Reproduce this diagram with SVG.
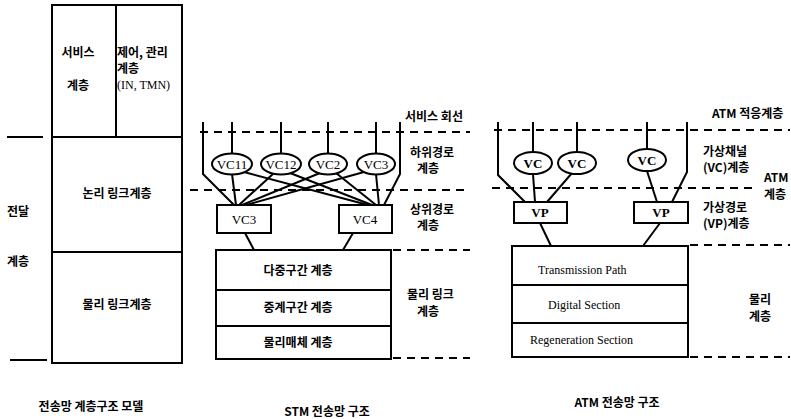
<svg xmlns="http://www.w3.org/2000/svg" width="791" height="419" viewBox="0 0 791 419">
<style>
.s{fill:none;stroke:#000;stroke-width:2}
.d{fill:none;stroke:#000;stroke-width:2;stroke-dasharray:8,6}
.box{fill:#fff;stroke:#000;stroke-width:2}
.k{font-family:"Noto Sans CJK KR","Liberation Sans",sans-serif;font-weight:bold;font-size:12px;fill:#000}
.e{font-family:"Liberation Serif","Noto Sans CJK KR",serif;font-size:13px;fill:#000}
.es{font-family:"Liberation Serif","Noto Sans CJK KR",serif;font-size:12px;fill:#000}
.m{text-anchor:middle}
</style>
<rect width="791" height="419" fill="#fff"/>

<!-- Left model -->
<g id="model">
  <rect class="box" x="52" y="5" width="130" height="358"/>
  <line class="s" x1="116" y1="5" x2="116" y2="137"/>
  <line class="s" x1="52" y1="137" x2="182" y2="137"/>
  <line class="s" x1="52" y1="252" x2="182" y2="252"/>
  <line class="s" x1="7" y1="137" x2="43" y2="137"/>
  <line class="s" x1="10" y1="360" x2="47" y2="360"/>
  <text class="k m" x="78" y="57">서비스</text>
  <text class="k m" x="78" y="90">계층</text>
  <text class="k" x="117" y="57">제어, 관리</text>
  <text class="k" x="117" y="73">계층</text>
  <text class="es" x="117" y="89">(IN, TMN)</text>
  <text class="k m" x="117" y="198">논리 링크계층</text>
  <text class="k m" x="117" y="309">물리 링크계층</text>
  <text class="k" x="7" y="216">전달</text>
  <text class="k" x="7" y="266">계층</text>
  <text class="k m" x="91" y="411">전송망 계층구조 모델</text>
</g>

<!-- STM connectors -->
<g id="stm-connectors">
  <line class="d" x1="200" y1="132" x2="470" y2="132"/>
  <line class="d" x1="190" y1="190" x2="470" y2="190"/>
  <line class="d" x1="393" y1="250" x2="470" y2="250"/>
  <line class="d" x1="393" y1="358" x2="470" y2="358"/>
  <polyline class="s" points="203,122 203,174 234,205"/>
  <polyline class="s" points="400,122 400,174 384,205"/>
  <line class="s" x1="232" y1="122" x2="232" y2="154"/>
  <line class="s" x1="281" y1="122" x2="281" y2="154"/>
  <line class="s" x1="328" y1="122" x2="328" y2="154"/>
  <line class="s" x1="376" y1="122" x2="376" y2="154"/>
  <line class="s" x1="232" y1="174" x2="236" y2="205"/>
  <line class="s" x1="244" y1="172" x2="368" y2="205"/>
  <line class="s" x1="274" y1="173" x2="239" y2="205"/>
  <line class="s" x1="290" y1="173" x2="372" y2="205"/>
  <line class="s" x1="320" y1="173" x2="242" y2="205"/>
  <line class="s" x1="336" y1="173" x2="376" y2="205"/>
  <line class="s" x1="364" y1="172" x2="246" y2="205"/>
  <line class="s" x1="376" y1="174" x2="379" y2="205"/>
  <line class="s" x1="245" y1="233" x2="254" y2="250"/>
  <line class="s" x1="353" y1="233" x2="343" y2="250"/>
</g>

<!-- STM nodes -->
<g id="vc11"><ellipse class="box" cx="232" cy="164" rx="20" ry="10.5"/><text class="e m" x="232" y="168.5">VC11</text></g>
<g id="vc12"><ellipse class="box" cx="281" cy="164" rx="20" ry="10.5"/><text class="e m" x="281" y="168.5">VC12</text></g>
<g id="vc2"><ellipse class="box" cx="328" cy="164" rx="19" ry="10.5"/><text class="e m" x="328" y="168.5">VC2</text></g>
<g id="vc3e"><ellipse class="box" cx="376" cy="164" rx="19" ry="10.5"/><text class="e m" x="376" y="168.5">VC3</text></g>
<g id="vc3box"><rect class="box" x="217" y="205" width="54" height="28"/><text class="e m" x="244" y="224">VC3</text></g>
<g id="vc4box"><rect class="box" x="339" y="205" width="53" height="28"/><text class="e m" x="365" y="224">VC4</text></g>
<g id="stm-phys">
  <rect class="box" x="216" y="250" width="175" height="109"/>
  <line class="s" x1="216" y1="290" x2="391" y2="290"/>
  <line class="s" x1="216" y1="326" x2="391" y2="326"/>
  <text class="k m" x="298" y="275">다중구간 계층</text>
  <text class="k m" x="298" y="312">중계구간 계층</text>
  <text class="k m" x="298" y="347">물리매체 계층</text>
</g>
<g id="stm-labels">
  <text class="k" x="405" y="121">서비스 회선</text>
  <text class="k" x="410" y="157">하위경로</text>
  <text class="k m" x="428" y="173">계층</text>
  <text class="k" x="410" y="214">상위경로</text>
  <text class="k m" x="428" y="230">계층</text>
  <text class="k" x="407" y="299">물리 링크</text>
  <text class="k m" x="428" y="316">계층</text>
  <text class="k m" x="327" y="416">STM 전송망 구조</text>
</g>

<!-- ATM connectors -->
<g id="atm-connectors">
  <line class="d" x1="494" y1="130" x2="790" y2="130"/>
  <line class="d" x1="492" y1="188" x2="756" y2="188"/>
  <line class="d" x1="690" y1="245" x2="790" y2="245"/>
  <line class="d" x1="690" y1="357" x2="790" y2="357"/>
  <polyline class="s" points="498,122 498,175 525,202"/>
  <polyline class="s" points="687,122 687,172 672,202"/>
  <line class="s" x1="533" y1="122" x2="533" y2="152"/>
  <line class="s" x1="577" y1="122" x2="577" y2="152"/>
  <line class="s" x1="647" y1="122" x2="647" y2="149"/>
  <line class="s" x1="533" y1="174" x2="535" y2="202"/>
  <line class="s" x1="572" y1="173" x2="547" y2="202"/>
  <line class="s" x1="647" y1="171" x2="657" y2="202"/>
  <line class="s" x1="540" y1="223" x2="551" y2="246"/>
  <line class="s" x1="660" y1="223" x2="643" y2="246"/>
</g>

<!-- ATM nodes -->
<g id="vc-a"><ellipse class="box" cx="533" cy="163" rx="19" ry="11"/><text class="e m" x="533" y="167.5" font-weight="bold">VC</text></g>
<g id="vc-b"><ellipse class="box" cx="577" cy="163" rx="19" ry="11"/><text class="e m" x="577" y="167.5" font-weight="bold">VC</text></g>
<g id="vc-c"><ellipse class="box" cx="647" cy="160" rx="19" ry="11"/><text class="e m" x="647" y="164.5" font-weight="bold">VC</text></g>
<g id="vp1"><rect class="box" x="514" y="202" width="53" height="21"/><text class="e m" x="540" y="217" font-weight="bold">VP</text></g>
<g id="vp2"><rect class="box" x="634" y="202" width="54" height="21"/><text class="e m" x="661" y="217" font-weight="bold">VP</text></g>
<g id="atm-phys">
  <rect class="box" x="512" y="246" width="176" height="111"/>
  <line class="s" x1="512" y1="285" x2="688" y2="285"/>
  <line class="s" x1="512" y1="323" x2="688" y2="323"/>
  <text class="es" x="538" y="274">Transmission Path</text>
  <text class="es" x="548" y="309">Digital Section</text>
  <text class="es" x="530" y="344">Regeneration Section</text>
</g>
<g id="atm-labels">
  <text class="k" x="712" y="118">ATM 적응계층</text>
  <text class="k" x="703" y="156">가상채널</text>
  <text class="k" x="703" y="172">(VC)계층</text>
  <text class="k" x="764" y="182">ATM</text>
  <text class="k" x="764" y="199">계층</text>
  <text class="k" x="703" y="212">가상경로</text>
  <text class="k" x="703" y="228">(VP)계층</text>
  <text class="k" x="749" y="304">물리</text>
  <text class="k" x="749" y="321">계층</text>
  <text class="k m" x="617" y="407">ATM 전송망 구조</text>
</g>
</svg>
